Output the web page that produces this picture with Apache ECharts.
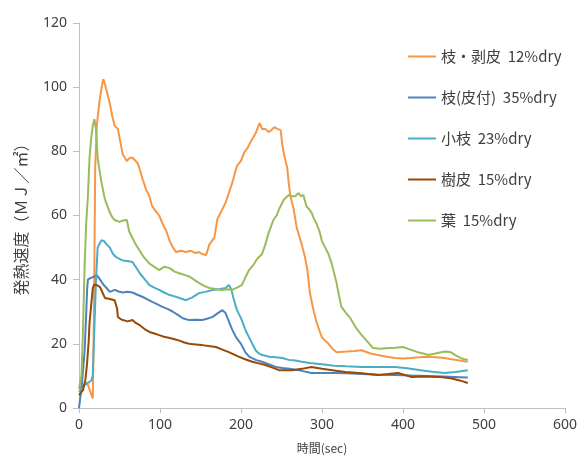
<!DOCTYPE html>
<html lang="ja">
<head>
<meta charset="UTF-8">
<title>発熱速度</title>
<script src="https://cdn.jsdelivr.net/npm/echarts@6.0.0/dist/echarts.min.js"></script>
<style>
  * { margin: 0; padding: 0; }
  body { background: #fff; }
  #chart { width: 580px; height: 461px; }
</style>
</head>
<body>
<div id="chart"></div>
<script>
// legend names
const seriesNames = ['枝・剥皮  12%dry', '枝(皮付)  35%dry', '小枝  23%dry', '樹皮  15%dry', '葉  15%dry'];

// [time sec, heat release rate MJ/m2]
const branchPeeled = [[0,6],[5,7],[10,8],[14,5],[17,3],[18,20],[19,45],[20,75],[22,88],[25,95],[28,100],[30,102.5],[32,101],[35,98],[38,95],[41,91],[44,88],[48,87],[51,83],[54,79],[59,77],[63,78],[66,78],[70,77],[73,76],[79,71],[83,68],[87,66],[90,63],[93,62],[96,61],[99,60],[104,57],[108,55],[112,52],[116,50],[120,48.6],[126,49],[132,48.6],[138,49],[144,48.3],[148,48.6],[152,48],[157,47.7],[161,51],[167,53],[171,59],[177,62],[181,64],[185,67],[189,70],[195,75.5],[200,77],[204,79.7],[208,81],[212,83],[218,85.6],[223,88.8],[226,87],[230,87],[234,86],[237,86.5],[241,87.5],[245,87],[249,86.6],[251,82],[254,78],[257,75],[259,70],[261,66],[265,62],[269,56],[275,51],[279,47],[282,43],[285,36],[289,31],[293,27],[297,24],[300,22],[304,21],[308,20],[313,18.5],[318,17.4],[330,17.6],[340,17.8],[349,18],[360,17],[369,16.5],[380,16],[390,15.6],[400,15.4],[410,15.6],[420,15.8],[431,16],[441,15.8],[451,15.6],[460,15.2],[470,14.8],[480,14.4]];
const branchBark = [[0,0],[2,4],[4,8.7],[7,18],[9,30],[10,37],[11,40],[14,40.5],[16,40.5],[19,41],[22,41.4],[26,40],[30,38.5],[34,37.4],[38,36.2],[44,36.8],[49,36.3],[54,36],[60,36.2],[66,36],[72,35.3],[79,34.6],[85,33.8],[91,33],[97,32.3],[103,31.5],[110,30.8],[116,30],[122,29],[128,28],[136,27.4],[144,27.5],[152,27.4],[158,27.8],[165,28.4],[171,29.5],[177,30.5],[181,29.6],[185,27],[189,24.5],[194,22],[200,20],[205,17.5],[210,16],[218,15],[226,14.4],[235,13.6],[243,12.8],[251,12.5],[260,12.2],[271,11.8],[287,10.9],[300,10.9],[316,10.9],[330,10.8],[350,10.6],[370,10.4],[390,10.3],[410,10.1],[430,10],[450,9.8],[470,9.6],[480,9.5]];
const twig = [[0,5],[3,6],[6,7],[9,7.5],[12,8],[15,8.5],[17,10],[19,25],[21,40],[23,50],[26,51.5],[28,52.3],[31,52],[34,51],[38,50],[42,48],[46,47],[50,46.5],[54,46],[60,45.8],[66,45.5],[70,44],[75,42],[80,40.5],[87,38.3],[93,37.5],[99,36.8],[105,36],[112,35.2],[118,34.8],[124,34.3],[132,33.6],[140,34.5],[148,35.8],[156,36.2],[165,36.8],[173,37],[181,37.4],[185,38.3],[188,37],[191,34],[195,30.5],[200,28],[206,24],[212,21],[218,18],[222,17],[226,16.5],[235,16],[243,15.8],[251,15.6],[259,15],[267,14.8],[275,14.4],[285,14],[300,13.6],[315,13.2],[330,13],[349,12.8],[370,12.8],[390,12.8],[405,12.4],[422,11.8],[436,11.3],[451,10.9],[465,11.2],[480,11.8]];
const bark = [[0,4],[5,5.6],[8,9],[10,14],[12,21],[13,26.5],[15,32],[17,37.4],[19,38.5],[22,38.3],[26,37.7],[29,36],[32,34.3],[38,34],[44,33.6],[47,31],[48,28.4],[51,27.8],[54,27.4],[60,27],[66,27.4],[70,26.5],[75,25.8],[81,24.6],[87,23.7],[93,23.2],[99,22.7],[105,22.2],[112,21.8],[118,21.4],[124,21],[130,20.4],[136,20],[144,19.8],[152,19.6],[160,19.3],[169,19],[177,18.2],[185,17.4],[191,16.7],[197,16],[205,15.2],[214,14.4],[222,13.9],[230,13.4],[239,12.6],[247,11.8],[255,11.8],[263,11.8],[275,12.2],[287,12.8],[300,12.2],[315,11.7],[329,11.2],[349,10.8],[369,10.3],[382,10.6],[394,10.9],[410,9.7],[425,9.8],[443,9.7],[459,9.3],[470,8.6],[480,7.8]];
const leaf = [[0,6],[3,10],[5,25],[7,45],[9,58],[11,66],[13,78],[15,84],[17,88],[19,90],[21,87],[23,78],[26,73],[28,70],[32,65],[35,63],[38,61],[41,59.5],[44,58.6],[50,58],[55,58.5],[59,58.6],[62,55],[66,53],[70,51],[75,49],[80,47],[87,45],[93,44],[99,43],[105,44],[112,43.6],[118,42.5],[124,42],[130,41.5],[136,41],[142,40],[148,39],[155,38],[161,37.4],[170,37],[177,36.8],[183,37],[189,36.8],[195,37.5],[201,38.3],[205,40.5],[210,43],[215,44.5],[220,46.5],[226,48],[230,51],[234,54.5],[240,58.6],[244,60],[247,62],[253,65],[259,66.4],[263,66],[267,66],[271,67],[274,66],[277,66.4],[281,62.7],[284,62],[287,61],[290,59],[293,57.6],[297,55],[300,52],[304,50],[308,48],[312,45],[315,42],[318,39],[321,35],[324,31.5],[330,29.5],[335,28],[342,25],[348,23],[355,21],[363,18.7],[372,18.5],[382,18.7],[391,18.8],[400,19],[409,18.2],[418,17.4],[425,17],[431,16.5],[440,17],[447,17.4],[453,17.6],[459,17.4],[465,16.4],[471,15.6],[476,15.2],[480,15]];

const allData = [branchPeeled, branchBark, twig, bark, leaf];
const colors = ['#F79646', '#4F81BD', '#4BACC6', '#984807', '#9BBB59'];

const chart = echarts.init(document.getElementById('chart'), null, { renderer: 'canvas' });

const textColor = '#404040';
const axisColor = '#BFBFBF';

chart.setOption({
    animation: false,
    color: colors,
    grid: { left: 79, right: 13, top: 23, bottom: 53, containLabel: false },
    legend: {
        orient: 'vertical',
        left: 403,
        top: 44,
        icon: 'rect',
        itemWidth: 28,
        itemHeight: 2,
        itemGap: 26,
        textStyle: { fontSize: 15, color: textColor, fontFamily: 'Noto Sans CJK JP' },
        data: seriesNames
    },
    xAxis: {
        type: 'value',
        min: 0,
        max: 600,
        interval: 100,
        name: '時間(sec)',
        nameLocation: 'middle',
        nameGap: 34,
        nameTextStyle: { fontSize: 12, color: textColor, fontFamily: 'Noto Sans CJK JP' },
        splitLine: { show: false },
        axisLine: { show: true, lineStyle: { color: axisColor, width: 1 } },
        axisTick: { show: true, length: 5, lineStyle: { color: axisColor } },
        axisLabel: { fontSize: 14, color: textColor, margin: 10, fontFamily: 'Noto Sans' }
    },
    yAxis: {
        type: 'value',
        min: 0,
        max: 120,
        interval: 20,
        name: '発熱速度（ＭＪ／㎡）',
        nameLocation: 'middle',
        nameGap: 50,
        nameRotate: 90,
        nameTextStyle: { fontSize: 16, color: textColor, fontFamily: 'Noto Sans CJK JP' },
        splitLine: { show: false },
        axisLine: { show: true, lineStyle: { color: axisColor, width: 1 } },
        axisTick: { show: true, length: 6, lineStyle: { color: axisColor } },
        axisLabel: { fontSize: 14, color: textColor, margin: 12, fontFamily: 'Noto Sans' }
    },
    series: seriesNames.map((name, i) => ({
        name: name,
        type: 'line',
        symbol: 'none',
        data: allData[i],
        lineStyle: { width: 2, color: colors[i] },
        itemStyle: { color: colors[i] }
    }))
});
</script>
</body>
</html>
